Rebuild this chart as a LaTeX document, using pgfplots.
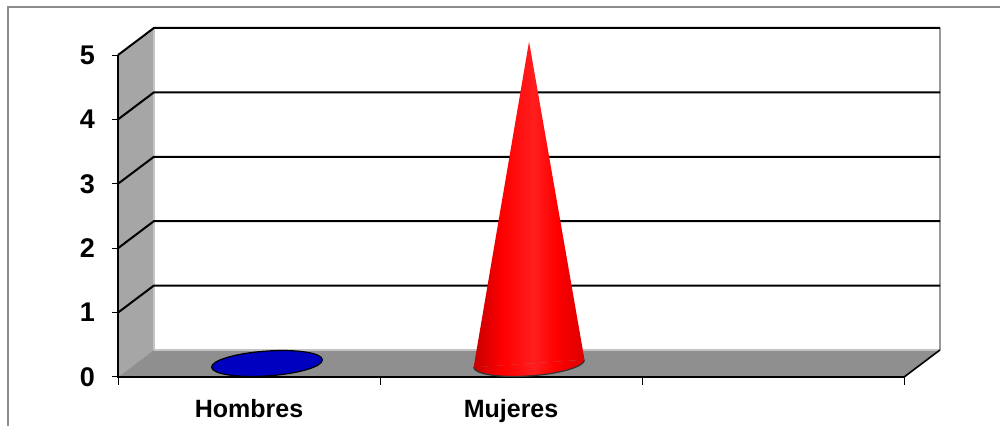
\documentclass[border=0pt]{standalone}
\usepackage{fontspec}
\setmainfont{Liberation Sans}
\usepackage{pgfplots}
\pgfplotsset{compat=1.18}

\definecolor{wallgray}{HTML}{A6A6A6}
\definecolor{floorgray}{HTML}{8F8F8F}
\definecolor{edgegray}{HTML}{C4C4C4}
\definecolor{framegray}{HTML}{8C8C8C}
\definecolor{hblue}{HTML}{0000C0}

\pgfdeclarehorizontalshading{conered}{100bp}{color(0bp)=(red!78!black); color(25bp)=(red!78!black);
  color(38bp)=(red); color(52bp)=(red!88!white); color(62bp)=(red); color(75bp)=(red!86!black);
  color(100bp)=(red!86!black)}

% base of a cone, seen from slightly above
\pgfdeclareplotmark{coneBase}{%
  \pgfpathellipse{\pgfpointorigin}{\pgfpoint{27.7pt}{1.9pt}}{\pgfpoint{-0.43pt}{6.2pt}}%
  \pgfusepathqfillstroke}
% front half of the base, under a cone
\pgfdeclareplotmark{coneFoot}{%
  \pgfpathmoveto{\pgfpoint{27.7pt}{1.9pt}}%
  \pgfpatharcaxes{0}{-180}{\pgfpoint{27.7pt}{1.9pt}}{\pgfpoint{-0.43pt}{6.2pt}}%
  \pgfshadepath{conered}{0}%
  \pgfusepathqstroke}

\begin{document}
\begin{tikzpicture}
\useasboundingbox (0,0) rectangle (500pt,213pt);
\draw[framegray, line width=1pt] (4pt,-2pt) -- (4pt,209.5pt) -- (502pt,209.5pt);
\begin{axis}[
    at={(59pt,24.5pt)}, anchor=south west,
    scale only axis, width=411pt, height=174.5pt,
    xmin=0, xmax=3.137, ymin=0, ymax=5.42,
    clip=false,
    axis line style={draw=none},
    tick align=outside,
    ytick={0,...,5}, ytick pos=left, xtick pos=bottom,
    major tick length=3pt,
    tick style={black, line width=0.5pt},
    xtick={0.5,1.5}, xticklabels={Hombres,Mujeres},
    major x tick style={draw=none},
    extra x ticks={0,1,2,3}, extra x tick labels={},
    extra x tick style={major tick length=4pt, major x tick style={draw=black, line width=0.5pt}},
    ticklabel style={font=\fontsize{12.5}{14}\selectfont\bfseries},
    /pgf/number format/assume math mode=true,
    yticklabel style={anchor=east, font=\fontsize{13.5}{15}\selectfont\bfseries},
    yticklabel shift=5pt,
    xticklabel style={anchor=base},
    xticklabel shift=17.5pt,
  ]
  % walls and floor
  \fill[wallgray] (axis cs:0,0) -- (axis cs:0.137,0.42) -- (axis cs:0.137,5.42) -- (axis cs:0,5) -- cycle;
  \fill[floorgray] (axis cs:0,0) -- (axis cs:3,0) -- (axis cs:3.137,0.42) -- (axis cs:0.137,0.42) -- cycle;
  \draw[edgegray, line width=1pt] (axis cs:0.137,0.42) -- (axis cs:0.137,5.42);
  \draw[edgegray, line width=1pt] (axis cs:0.137,0.42) -- (axis cs:3.137,0.42);
  \draw[gray!80, line width=1pt] (axis cs:3.137,0.42) -- (axis cs:3.137,5.42);
  % grid lines
  \draw[black, line width=1pt] (axis cs:0,1) -- (axis cs:0.137,1.42) -- (axis cs:3.137,1.42);
  \draw[black, line width=1pt] (axis cs:0,2) -- (axis cs:0.137,2.42) -- (axis cs:3.137,2.42);
  \draw[black, line width=1pt] (axis cs:0,3) -- (axis cs:0.137,3.42) -- (axis cs:3.137,3.42);
  \draw[black, line width=1pt] (axis cs:0,4) -- (axis cs:0.137,4.42) -- (axis cs:3.137,4.42);
  \draw[black, line width=1pt] (axis cs:0,5) -- (axis cs:0.137,5.42) -- (axis cs:3.137,5.42);
  \draw[black, line width=0.8pt] (axis cs:0,5) -- (axis cs:0,0) -- (axis cs:3,0) -- (axis cs:3.137,0.42);

  % Hombres = 0
  \addplot[only marks, mark=coneBase, xshift=9pt, yshift=6.75pt,
    mark options={fill=hblue, draw=black, line width=0.6pt}] coordinates {(0.5,0)};
  % Mujeres = 5
  \addplot[draw=none, shading=conered, shading angle=0,
    xshift=9pt, yshift=6.75pt] coordinates {(1.2885,-0.06) (1.5,5) (1.7115,0.06)};
  \addplot[only marks, mark=coneFoot, xshift=9pt, yshift=6.75pt,
    mark options={draw=black!80, line width=0.6pt}] coordinates {(1.5,0)};
\end{axis}
\end{tikzpicture}
\end{document}
